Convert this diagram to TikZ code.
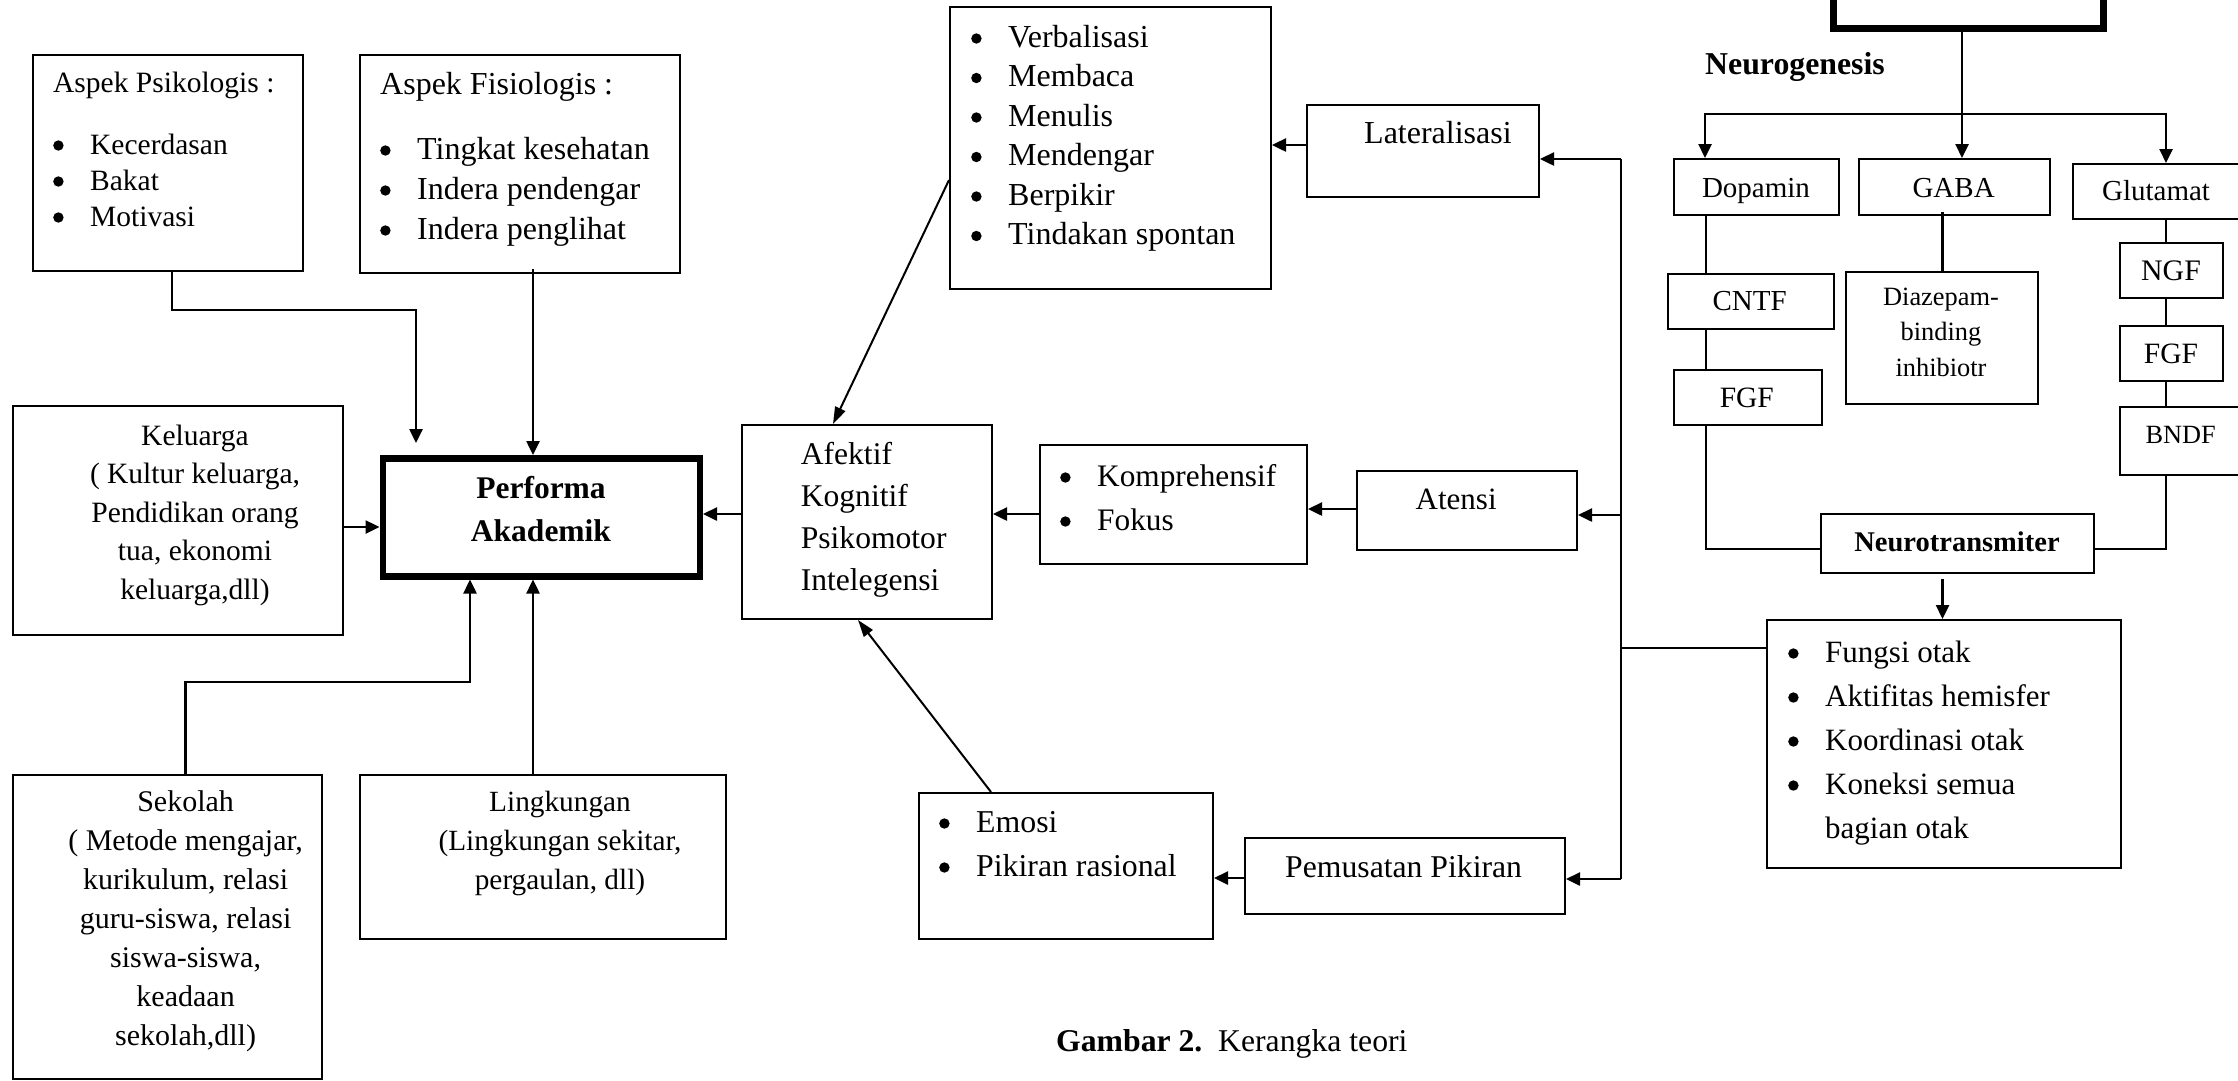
\documentclass[tikz,border=0pt]{standalone}
\usepackage{fontspec}
\setmainfont{Liberation Serif}
\usetikzlibrary{arrows.meta,calc}
\newcommand\bu{\makebox[37pt][l]{\tikz[baseline=0pt,x=1pt,y=1pt]{\fill (5.5,8.7) circle (5.2pt);}}}
\newcommand\R{\rule{0pt}{28pt}}
\newcommand\fs[2]{\fontsize{#1}{#2}\selectfont}
\begin{document}
\begin{tikzpicture}[x=1pt,y=-1pt,
  bx/.style={draw, line width=2pt, inner sep=0pt, anchor=north west},
  thk/.style={draw, line width=6.5pt, inner sep=0pt, anchor=north west},
  tx/.style={inner sep=0pt, align=left, anchor=north west},
  tc/.style={inner sep=0pt, align=center, anchor=north},
  lb/.style={inner sep=0pt, anchor=base west},
  lc/.style={inner sep=0pt, anchor=base},
  ln/.style={line width=2.2pt},
  arr/.style={line width=2.5pt, -{Triangle[length=14pt,width=13pt]}},
  arrd/.style={line width=2pt, -{Triangle[length=17pt,width=11pt]}},
]
\useasboundingbox (0,0) rectangle (2238,1080);
\clip (0,0) rectangle (2238,1080);

% ---------- boxes ----------
\node[bx, minimum width=270pt, minimum height=216pt] (psi) at (32,54) {};
\node[bx, minimum width=320pt, minimum height=218pt] (fis) at (359,54) {};
\node[bx, minimum width=330pt, minimum height=229pt] (kel) at (12,405) {};
\node[thk, minimum width=317pt, minimum height=118pt] (perf) at (379.5,455) {};
\node[bx, minimum width=309pt, minimum height=304pt] (sek) at (12,774) {};
\node[bx, minimum width=366pt, minimum height=164pt] (ling) at (359,774) {};
\node[bx, minimum width=321pt, minimum height=282pt] (verb) at (949,6) {};
\node[bx, minimum width=232pt, minimum height=92pt] (lat) at (1306,104) {};
\node[bx, minimum width=250pt, minimum height=194pt] (afek) at (741,424) {};
\node[bx, minimum width=267pt, minimum height=119pt] (komp) at (1039,444) {};
\node[bx, minimum width=220pt, minimum height=79pt] (aten) at (1356,470) {};
\node[bx, minimum width=294pt, minimum height=146pt] (emo) at (918,792) {};
\node[bx, minimum width=320pt, minimum height=76pt] (pem) at (1244,837) {};
\node[bx, minimum width=354pt, minimum height=248pt] (fung) at (1766,619) {};
\node[thk, minimum width=270pt, minimum height=75pt] (topb) at (1830,-50) {};
\node[bx, minimum width=165pt, minimum height=55.5pt] (dop) at (1673,158) {};
\node[bx, minimum width=191pt, minimum height=55.5pt] (gaba) at (1858,158) {};
\node[bx, minimum width=200pt, minimum height=55pt] (glu) at (2072,163) {};
\node[bx, minimum width=166pt, minimum height=55pt] (cntf) at (1667,273) {};
\node[bx, minimum width=148pt, minimum height=55pt] (fgfL) at (1673,369) {};
\node[bx, minimum width=191.5pt, minimum height=132pt] (diaz) at (1845,270.5) {};
\node[bx, minimum width=103pt, minimum height=55pt] (ngf) at (2119,242) {};
\node[bx, minimum width=103pt, minimum height=55pt] (fgfR) at (2119,325) {};
\node[bx, minimum width=150pt, minimum height=68pt] (bndf) at (2119,406) {};
\node[bx, minimum width=273pt, minimum height=59pt] (nt) at (1820,513) {};

% ---------- texts ----------
\node[tx, font=\fs{29.5}{36}] (tpsi) at (53,64) {\R Aspek Psikologis :\\[26pt]\bu Kecerdasan\\\bu Bakat\\\bu Motivasi};
\node[tx, font=\fs{32}{40}] (tfis) at (380,66) {\R Aspek Fisiologis :\\[25pt]\bu Tingkat kesehatan\\\bu Indera pendengar\\\bu Indera penglihat};
\node[tc, font=\fs{29.5}{38.5}] (tkel) at (195,417) {\R Keluarga\\( Kultur keluarga,\\Pendidikan orang\\tua, ekonomi\\keluarga,dll)};
\node[tc, font=\fs{30}{39}] (tsek) at (185.6,783) {\R Sekolah\\( Metode mengajar,\\kurikulum, relasi\\guru-siswa, relasi\\siswa-siswa,\\keadaan\\sekolah,dll)};
\node[tc, font=\fs{29.3}{39}] (tling) at (560,783) {\R Lingkungan\\(Lingkungan sekitar,\\pergaulan, dll)};
\node[tc, font=\bfseries\fs{31.5}{43}] (tperf) at (541,470) {\R Performa\\Akademik};
\node[tx, font=\fs{32}{39.5}] (tverb) at (971,19) {\R\bu Verbalisasi\\\bu Membaca\\\bu Menulis\\\bu Mendengar\\\bu Berpikir\\\bu Tindakan spontan};
\node[lb, font=\fs{32}{38}] (tlat) at (1364,143) {Lateralisasi};
\node[tx, font=\fs{31.6}{42}] (tafek) at (800.6,436) {\R Afektif\\Kognitif\\Psikomotor\\Intelegensi};
\node[tx, font=\fs{31.3}{44}] (tkomp) at (1060,458) {\R\bu Komprehensif\\\bu Fokus};
\node[lb, font=\fs{31}{38}] (taten) at (1415.5,509) {Atensi};
\node[tx, font=\fs{31.8}{44}] (temo) at (939,804) {\R\bu Emosi\\\bu Pikiran rasional};
\node[lb, font=\fs{31.7}{38}] (tpem) at (1285,877) {Pemusatan Pikiran};
\node[tx, font=\fs{31}{44}] (tfung) at (1788,634) {\R\bu Fungsi otak\\\bu Aktifitas hemisfer\\\bu Koordinasi otak\\\bu Koneksi semua\\\makebox[37pt]{}bagian otak};
\node[lb, font=\bfseries\fs{31.8}{38}] (tneu) at (1705,74) {Neurogenesis};
\node[lc, font=\fs{29}{35}] (tdop) at (1756,197) {Dopamin};
\node[lc, font=\fs{29}{35}] (tgaba) at (1953.6,197.5) {GABA};
\node[lc, font=\fs{29}{35}] (tglu) at (2156,200) {Glutamat};
\node[lc, font=\fs{29}{35}] (tcntf) at (1749.7,310) {CNTF};
\node[lc, font=\fs{29.5}{35}] (tfgfL) at (1746.8,407) {FGF};
\node[tc, font=\fs{26.4}{35.5}] (tdiaz) at (1941,277) {\R Diazepam-\\binding\\inhibiotr};
\node[lc, font=\fs{29.8}{35}] (tngf) at (2171,280.5) {NGF};
\node[lc, font=\fs{29.5}{35}] (tfgfR) at (2171,363) {FGF};
\node[lc, font=\fs{26.3}{35}] (tbndf) at (2180.7,443) {BNDF};
\node[lc, font=\bfseries\fs{28.5}{33}] (tnt) at (1957,551) {Neurotransmiter};
\node[lb, font=\fs{31.7}{38}] (tcap) at (1056,1051) {\textbf{Gambar 2.}\ \ Kerangka teori};

% ---------- connectors, left part ----------
\coordinate (pk) at (416,443);
\draw[arr] ($(psi.south)+(4,0)$) |- ($(pk)+(0,-133)$) -- (pk);
\draw[arr] ($(fis.south)+(13,-5)$) coordinate (f1) -- (f1 |- perf.north);
\draw[arr] (kel.east |- 0,527) -- (perf.west |- 0,527);
\draw[arr] (afek.west |- 0,514) -- (perf.east |- 0,514);
\draw[arr] (ling.north -| 533,0) -- (perf.south -| 533,0);
\coordinate (sk) at (470,682);
\draw[arr] ($(sek.north)+(18,0)$) |- (sk) -- (perf.south -| sk);

% ---------- middle ----------
\draw[arr] (komp.west |- 0,514) -- (afek.east |- 0,514);
\draw[arr] (aten.west |- 0,509) -- (komp.east |- 0,509);
\draw[arr] (lat.west |- 0,145) -- (verb.east |- 0,145);
\draw[arr] (pem.west |- 0,878) -- (emo.east |- 0,878);
\draw[arrd] (verb.west |- 0,180) -- ($(afek.north west)+(92,0)$);
\draw[arrd] ($(emo.north west)+(73,0)$) -- ($(afek.south west)+(117,0)$);

% ---------- bus ----------
\coordinate (bt) at (1621,159);
\coordinate (bb) at (1621,879);
\draw[ln] (bt) -- (bb);
\draw[arr] (bt) -- (lat.east |- bt);
\draw[arr] (bt |- 0,515) -- (aten.east |- 0,515);
\draw[arr] (bb) -- (pem.east |- bb);
\draw[ln] (fung.west |- 0,648) -- (bt |- 0,648);

% ---------- neurogenesis ----------
\coordinate (br) at (1962,114);
\draw[arr] (topb.south -| br) -- (gaba.north -| br);
\draw[arr] (br) -| (dop.north -| 1705,0);
\draw[arr] (br) -| (glu.north -| 2166,0);
\draw[ln] (dop.south -| 1706,0) -- (cntf.north -| 1706,0);
\draw[ln] (cntf.south -| 1706,0) -- (fgfL.north -| 1706,0);
\draw[ln] (fgfL.south -| 1706,0) |- (nt.west |- 0,549);
\draw[ln] ($(gaba.south -| 1942.5,0)+(0,-4)$) -- (diaz.north -| 1942.5,0);
\draw[ln] (glu.south -| 2166,0) -- (ngf.north -| 2166,0);
\draw[ln] (ngf.south -| 2166,0) -- (fgfR.north -| 2166,0);
\draw[ln] (fgfR.south -| 2166,0) -- (bndf.north -| 2166,0);
\draw[ln] (bndf.south -| 2166,0) |- (nt.east |- 0,549);
\draw[arr, shorten <=5pt] (nt.south -| 1942.5,0) -- (fung.north -| 1942.5,0);
\end{tikzpicture}
\end{document}
